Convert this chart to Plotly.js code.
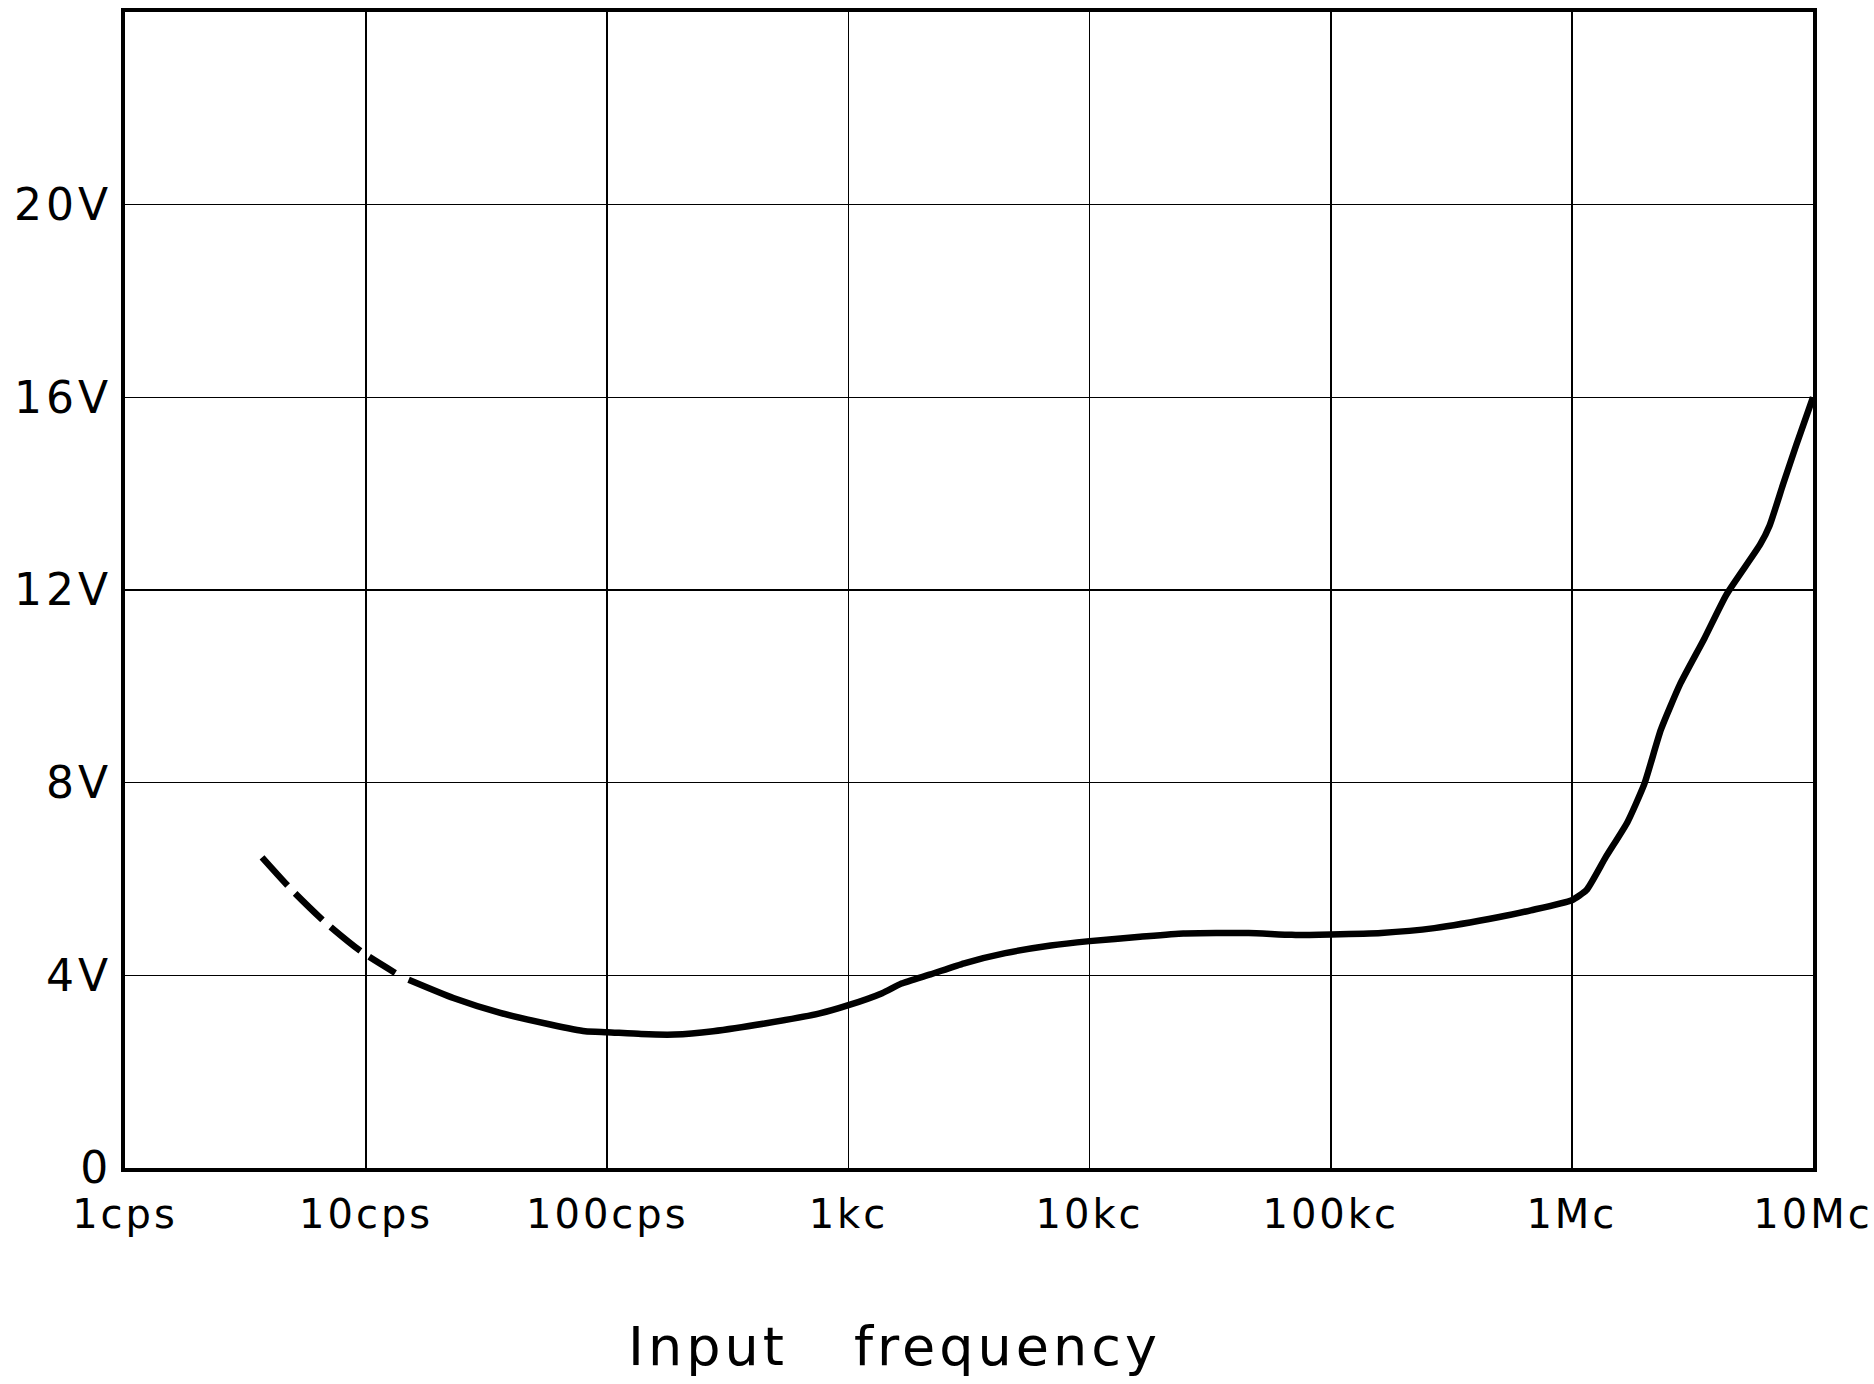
<!DOCTYPE html>
<html>
<head>
<meta charset="utf-8">
<script src="https://cdn.plot.ly/plotly-3.0.1.min.js"></script>
<style>
html, body { margin: 0; padding: 0; background: #ffffff; }
.xtick text { letter-spacing: 3px; }
.ytick text { letter-spacing: 4px; }
.annotation-text { letter-spacing: 4px; word-spacing: 45px; }
</style>
</head>
<body>
<div id="chart" style="width:1874px;height:1384px;"></div>
<script>
// Tick values and labels
const freqTicks = [1, 10, 100, 1000, 10000, 100000, 1000000, 10000000];
const freqLabels = ["1cps", "10cps", "100cps", "1kc", "10kc", "100kc", "1Mc", "10Mc"];
const voltTicks = [0, 4, 8, 12, 16, 20];
const voltLabels = ["0", "4V", "8V", "12V", "16V", "20V"];
const xTitle = "Input frequency";

// Extrapolated (dashed) low-frequency part of the curve
const dashedFreq = [3.7, 4.9, 6.8, 9.5, 13.2];
const dashedVolt = [6.45, 5.78, 5.09, 4.50, 4.05];

// Measured (solid) part of the curve
const solidFreq = [15, 23, 36, 58, 81, 100, 138, 190, 275, 450, 760, 1000, 1380, 1660, 2190,
  3020, 4470, 6900, 10000, 16200, 24500, 45700, 69000, 100000, 162000, 269000, 500000, 676000,
  1000000, 1150000, 1380000, 1700000, 2000000, 2340000, 2820000, 3550000, 4370000,
  6030000, 6610000, 7520000, 8510000, 10000000];
const solidVolt = [3.91, 3.53, 3.22, 2.98, 2.84, 2.82, 2.78, 2.77, 2.84, 3.00, 3.21, 3.38, 3.63, 3.83, 4.02,
  4.25, 4.46, 4.62, 4.71, 4.80, 4.87, 4.88, 4.84, 4.85, 4.88, 4.98, 5.21, 5.35,
  5.56, 5.77, 6.45, 7.18, 7.98, 9.10, 10.06, 11.0, 11.9,
  12.94, 13.34, 14.2, 15.0, 16.0];

const traces = [
  {
    x: dashedFreq, y: dashedVolt, type: "scatter", mode: "lines",
    line: { color: "#000000", width: 6.5, dash: "38px,11px", shape: "spline", smoothing: 0.6 },
    hoverinfo: "skip", showlegend: false
  },
  {
    x: solidFreq, y: solidVolt, type: "scatter", mode: "lines",
    line: { color: "#000000", width: 6.5, shape: "spline", smoothing: 0.5 },
    hoverinfo: "skip", showlegend: false
  }
];

const fontFamily = "'DejaVu Sans', 'Liberation Sans', sans-serif";

const layout = {
  width: 1874, height: 1384,
  margin: { l: 125, r: 61, t: 12, b: 216, pad: 0 },
  paper_bgcolor: "#ffffff", plot_bgcolor: "#ffffff",
  showlegend: false,
  font: { family: fontFamily, color: "#000000" },
  xaxis: {
    type: "log", range: [0, 7], autorange: false,
    tickmode: "array", tickvals: freqTicks, ticktext: freqLabels,
    tickfont: { size: 40, family: fontFamily, color: "#000000" },
    ticks: "", showgrid: true, gridcolor: "#000000", gridwidth: 1.6,
    showline: true, linecolor: "#000000", linewidth: 4, mirror: true,
    zeroline: false, automargin: false, ticklabelstandoff: 8
  },
  yaxis: {
    range: [0, 24], autorange: false,
    tickmode: "array", tickvals: voltTicks, ticktext: voltLabels,
    tickfont: { size: 44, family: fontFamily, color: "#000000" },
    ticks: "", showgrid: true, gridcolor: "#000000", gridwidth: 1.6,
    showline: true, linecolor: "#000000", linewidth: 4, mirror: true,
    zeroline: false, automargin: false, ticklabelstandoff: 0
  },
  annotations: [
    {
      text: xTitle, xref: "paper", yref: "paper", x: 0.456, y: -0.154,
      xanchor: "center", yanchor: "middle", showarrow: false,
      font: { size: 54, family: fontFamily, color: "#000000" }
    }
  ]
};

Plotly.newPlot("chart", traces, layout, { displayModeBar: false, staticPlot: true });
</script>
</body>
</html>
